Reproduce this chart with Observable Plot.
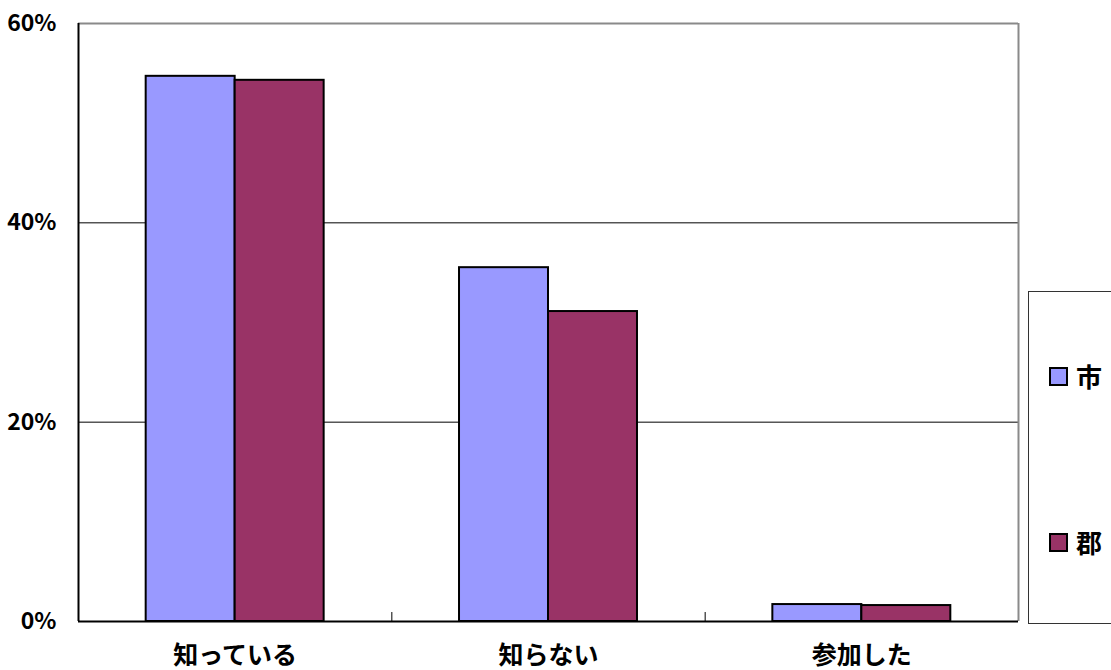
<!DOCTYPE html>
<html><head><meta charset="utf-8">
<script src="https://cdn.jsdelivr.net/npm/d3@7"></script>
<script src="https://cdn.jsdelivr.net/npm/@observablehq/plot@0.6"></script>
<style>
body{margin:0;background:#fff;}
#wrap{position:relative;width:1111px;height:670px;overflow:hidden;font-family:"Noto Sans CJK JP","Noto Sans",sans-serif;}
#legend{position:absolute;left:1028px;top:291px;width:100px;height:333px;border:1px solid #333;box-sizing:border-box;background:#fff;}
.item{position:absolute;left:20px;display:flex;align-items:center;font-size:26px;font-weight:bold;color:#000;line-height:1;}
.sw{width:15px;height:15px;border:2px solid #000;margin-right:8px;}
</style></head><body>
<div id="wrap"><div id="legend"></div></div>
<script>
const categories = ["知っている", "知らない", "参加した"];
const seriesNames = ["市", "郡"];
const shiValues = [54.7, 35.5, 1.7];
const gunValues = [54.3, 31.1, 1.6];
const seriesColors = ["#9999ff", "#993366"];
const yTicks = [0, 20, 40, 60];

const barWidth = 0.284; // fraction of a category slot
const data = categories.flatMap((c, i) => [
  {cat: c, idx: i, series: seriesNames[0], value: shiValues[i]},
  {cat: c, idx: i, series: seriesNames[1], value: gunValues[i]}
]);

const chart = Plot.plot({
  width: 1111, height: 670,
  marginLeft: 78, marginRight: 93, marginTop: 23, marginBottom: 49,
  x: {type: "linear", domain: [0, categories.length], label: null},
  y: {domain: [0, 60], label: null},
  color: {domain: seriesNames, range: seriesColors},
  style: {background: "transparent", color: "#000", fontFamily: '"Noto Sans CJK JP","Noto Sans",sans-serif'},
  marks: [
    Plot.ruleY([20, 40], {stroke: "#000", strokeWidth: 1}),
    Plot.ruleY([60], {stroke: "#8a8a8a", strokeWidth: 2}),
    Plot.ruleX([categories.length], {stroke: "#8a8a8a", strokeWidth: 2}),
    Plot.rectY(data, {
      x1: d => d.idx + 0.5 + (d.series === seriesNames[0] ? -barWidth : 0),
      x2: d => d.idx + 0.5 + (d.series === seriesNames[0] ? 0 : barWidth),
      y1: 0, y2: "value", fill: "series", stroke: "#000", strokeWidth: 2
    }),
    Plot.ruleY([0], {stroke: "#000", strokeWidth: 2}),
    Plot.ruleX([0], {stroke: "#000", strokeWidth: 2}),
    Plot.ruleX(d3.range(1, categories.length), {y1: 0, y2: 0.9, stroke: "#000", strokeWidth: 1}),
    Plot.axisY({ticks: yTicks, tickFormat: d => d + "%", tickSize: 0, tickPadding: 22, fontSize: 23, fontWeight: "bold", label: null}),
    Plot.axisX({ticks: categories.map((c, i) => i + 0.5), tickFormat: d => categories[Math.floor(d)], tickSize: 0, tickPadding: 25, fontSize: 25, fontWeight: "bold", label: null})
  ]
});
document.getElementById("wrap").prepend(chart);

const legend = document.getElementById("legend");
seriesNames.forEach((s, i) => {
  const it = document.createElement("div");
  it.className = "item";
  it.style.top = (i === 0 ? 71 : 237) + "px";
  const sw = document.createElement("div");
  sw.className = "sw";
  sw.style.background = seriesColors[i];
  it.appendChild(sw);
  it.appendChild(document.createTextNode(s));
  legend.appendChild(it);
});
</script>
</body></html>
